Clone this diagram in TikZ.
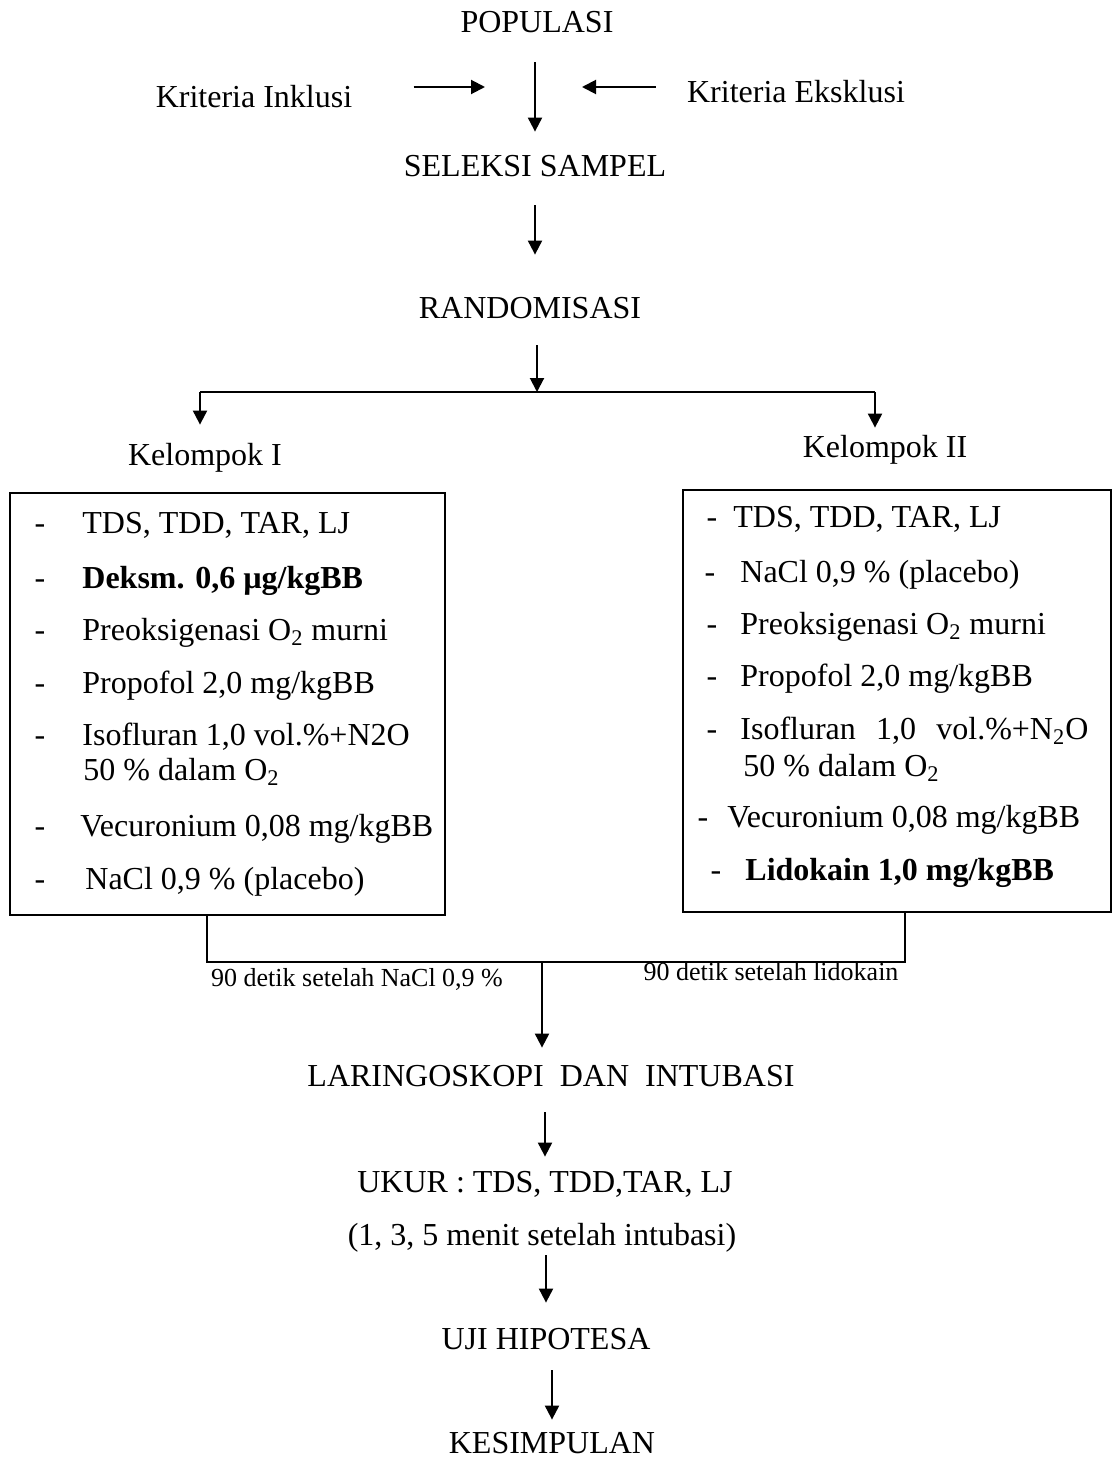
\documentclass[tikz,border=0pt]{standalone}
\usepackage{fontspec}
\setmainfont{Liberation Serif}
\usetikzlibrary{arrows.meta}
\tikzset{
  txt/.style={font=\fontsize{16}{19}\selectfont, inner sep=0pt, text height=13pt, text depth=2.4pt},
  note/.style={font=\fontsize{13}{15}\selectfont, inner sep=0pt},
  item/.style={txt, anchor=west},
  grp/.style={draw, line width=1pt, inner sep=0pt},
  flow/.style={line width=1pt, -{Triangle[length=7pt,width=7pt]}},
  link/.style={line width=1pt},
}
\begin{document}
\begin{tikzpicture}[x=0.5pt,y=-0.5pt]
  \useasboundingbox (0,0) rectangle (1113,1461);

  \node[txt] (pop) at (537,22){POPULASI};
  \node[txt] (inkl) at (254,97){Kriteria Inklusi};
  \node[txt] (eksl) at (796,92){Kriteria Eksklusi};
  \coordinate (mid) at (535,87);
  \node[txt] (sel) at (535,166){SELEKSI SAMPEL};
  \node[txt] (rand) at (530,308){RANDOMISASI};
  \coordinate (split) at (537,392);
  \coordinate (splitL) at (200,392);
  \coordinate (splitR) at (875,392);
  \node[txt] (kel1) at (205,455){Kelompok I};
  \node[txt] (kel2) at (885,447){Kelompok II};

  \node[grp, minimum width=217.5pt, minimum height=211pt] (box1) at (227.5,704){};
  \node[grp, minimum width=214pt, minimum height=211pt] (box2) at (897,701){};

  \node[txt] (d11) at (40,523){-};
  \node[item] (i11) at (82,523){TDS, TDD, TAR, LJ};
  \node[txt] (d12) at (40,578){-};
  \node[item] (i12) at (82,578){\bfseries Deksm. 0,6 µg/kgBB};
  \node[txt] (d13) at (40,630){-};
  \node[item] (i13) at (82,630){Preoksigenasi O\textsubscript{2} murni};
  \node[txt] (d14) at (40,683){-};
  \node[item] (i14) at (82,683){Propofol 2,0 mg/kgBB};
  \node[txt] (d15) at (40,735){-};
  \node[item] (i15) at (82,735){Isofluran 1,0 vol.\%+N2O};
  \node[item] (i15b) at (83,770){50 \% dalam O\textsubscript{2}};
  \node[txt] (d16) at (40,826){-};
  \node[item] (i16) at (80,826){Vecuronium 0,08 mg/kgBB};
  \node[txt] (d17) at (40,879){-};
  \node[item] (i17) at (85,879){NaCl 0,9 \% (placebo)};

  \node[txt] (d21) at (712,517){-};
  \node[item] (i21) at (733,517){TDS, TDD, TAR, LJ};
  \node[txt] (d22) at (710,572){-};
  \node[item] (i22) at (740,572){NaCl 0,9 \% (placebo)};
  \node[txt] (d23) at (712,624){-};
  \node[item] (i23) at (740,624){Preoksigenasi O\textsubscript{2} murni};
  \node[txt] (d24) at (712,676){-};
  \node[item] (i24) at (740,676){Propofol 2,0 mg/kgBB};
  \node[txt] (d25) at (712,729){-};
  \node[item] (i25) at (740,729){\hbox to 174pt{Isofluran\hfil 1,0\hfil vol.\%+N\textsubscript{2}O}};
  \node[item] (i25b) at (743,766){50 \% dalam O\textsubscript{2}};
  \node[txt] (d26) at (703,817){-};
  \node[item] (i26) at (727,817){Vecuronium 0,08 mg/kgBB};
  \node[txt] (d27) at (716,870){-};
  \node[item] (i27) at (745,870){\bfseries Lidokain 1,0 mg/kgBB};

  \coordinate (joinL) at (207,962);
  \coordinate (joinR) at (905,962);
  \coordinate (join) at (542,962);
  \node[note] (lblL) at (357,979){90 detik setelah NaCl 0,9 \%};
  \node[note] (lblR) at (771,972){90 detik setelah lidokain};

  \node[txt] (lar) at (551,1076){LARINGOSKOPI\ \ DAN\ \ INTUBASI};
  \node[txt] (ukur) at (545,1182){UKUR : TDS, TDD,TAR, LJ};
  \node[txt] (menit) at (542,1235){(1, 3, 5 menit setelah intubasi)};
  \node[txt] (uji) at (546,1339){UJI HIPOTESA};
  \node[txt] (kes) at (552,1443){KESIMPULAN};

  \draw[flow, shorten <=30.5pt, shorten >=25pt] (inkl.east |- mid) -- (mid);
  \draw[flow, shorten <=15.5pt, shorten >=23.5pt] (eksl.west |- mid) -- (mid);
  \draw[flow, shorten <=12.3pt, shorten >=9.3pt] (pop.south -| sel) -- (sel.north);
  \draw[flow, shorten <=11.8pt, shorten >=18.8pt] (sel.south) -- (sel.south |- rand.north);
  \draw[flow, shorten <=10.8pt] (rand.south -| split) -- (split);
  \draw[link] (splitL) -- (splitR);
  \draw[flow, shorten >=7.3pt] (splitL) -- (splitL |- kel1.north);
  \draw[flow, shorten >=1.8pt] (splitR) -- (splitR |- kel2.north);
  \draw[link] (box1.south -| joinL) -- (joinL) -- (joinR) -- (box2.south -| joinR);
  \draw[flow, shorten >=6.3pt] (join) -- (join |- lar.north);
  \draw[flow, shorten <=10.3pt, shorten >=4.8pt] (lar.south -| ukur) -- (ukur.north);
  \draw[flow, shorten <=2.3pt, shorten >=10.3pt] (menit.south -| uji) -- (uji.north);
  \draw[flow, shorten <=7.8pt, shorten >=3.8pt] (uji.south -| kes) -- (kes.north);
\end{tikzpicture}
\end{document}
